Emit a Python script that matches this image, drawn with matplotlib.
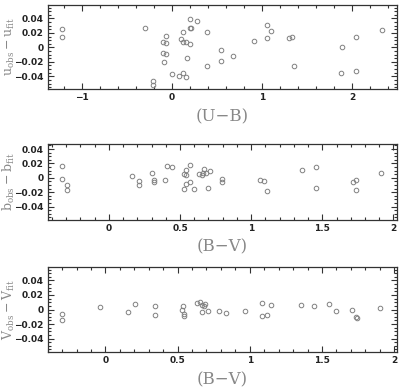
import numpy as np
import matplotlib
matplotlib.use('Agg')
import matplotlib.pyplot as plt
from matplotlib.ticker import MultipleLocator, FuncFormatter

# residuals in u against (U-B)
ub_x = [-1.22, -1.22, -0.294, -0.212, -0.212, -0.101, -0.063, -0.063, -0.101, -0.063,
        -0.085, 0.004, 0.078, 0.123, 0.161, 0.105, 0.123, 0.123, 0.161, 0.198,
        0.164, 0.198, 0.206, 0.209, 0.279, 0.391, 0.391, 0.544, 0.544, 0.674,
        0.916, 1.058, 1.058, 1.102, 1.30, 1.33, 1.352, 1.888, 1.881, 2.048,
        2.045, 2.33]
ub_y = [0.0248, 0.0143, 0.0267, -0.0463, -0.0518, 0.0075, 0.0067, 0.0153, -0.0084, -0.0097,
        -0.0207, -0.0371, -0.039, -0.0358, -0.0404, 0.0122, 0.0212, 0.0075, 0.0075, 0.004,
        -0.0144, 0.0396, 0.0267, 0.0262, 0.0363, 0.0212, -0.0258, -0.0042, -0.0185, -0.012,
        0.0092, 0.0308, 0.0129, 0.023, 0.0129, 0.0143, -0.0258, 0.0005, -0.0354, 0.0143,
        -0.0327, 0.0235]

# residuals in b against (B-V)
bv1_x = [-0.326, -0.326, -0.291, -0.293, 0.160, 0.211, 0.211, 0.303, 0.317, 0.317,
         0.397, 0.411, 0.446, 0.568, 0.545, 0.526, 0.545, 0.540, 0.568, 0.526,
         0.599, 0.634, 0.651, 0.672, 0.681, 0.662, 0.714, 0.695, 0.796, 0.796,
         1.059, 1.092, 1.108, 1.359, 1.453, 1.453, 1.716, 1.739, 1.739, 1.911]
bv1_y = [0.0169, -0.0009, -0.0105, -0.0169, 0.0032, -0.0037, -0.0105, 0.0073, -0.0032, -0.0059,
         -0.0027, 0.0165, 0.0155, 0.0174, 0.011, 0.0055, 0.0037, -0.0082, -0.0064, -0.016,
         -0.016, 0.0055, 0.0046, 0.012, 0.0073, 0.0073, 0.010, -0.0147, -0.0014, -0.0055,
         -0.0027, -0.0037, -0.0178, 0.0105, 0.0155, -0.0146, -0.0064, -0.0032, -0.0165, 0.0069]

# residuals in V against (B-V)
bv2_x = [-0.298, -0.298, -0.037, 0.157, 0.208, 0.340, 0.340, 0.527, 0.536, 0.541,
         0.541, 0.633, 0.652, 0.666, 0.689, 0.680, 0.671, 0.712, 0.79, 0.837,
         0.966, 1.087, 1.087, 1.117, 1.147, 1.357, 1.447, 1.549, 1.595, 1.709,
         1.739, 1.741, 1.905]
bv2_y = [-0.006, -0.0138, 0.0037, -0.0037, 0.0069, 0.0051, -0.0074, -0.0006, 0.005, -0.0062,
         -0.009, 0.0088, 0.0098, 0.006, 0.0078, 0.0042, -0.0034, -0.0014, -0.0024, -0.0042,
         -0.0014, 0.0083, -0.0083, -0.0074, 0.0064, 0.0064, 0.0051, 0.0078, -0.0014, 0.0,
         -0.011, -0.0118, 0.0018]

plt.rcParams['mathtext.fontset'] = 'dejavuserif'

fig = plt.figure(figsize=(4.0, 3.87), dpi=100)
W, H = 400., 387.

def make_ax(top, bot):
    return fig.add_axes([47.7/W, 1-bot/H, (397-47.7)/W, (bot-top)/H])

fmt = FuncFormatter(lambda v, p: '0' if abs(v) < 1e-9 else ('%g' % v).replace('-', '\u2212'))

panels = [
    (4.7, 89.3, ub_x, ub_y, (-1.38, 2.5), (-0.058, 0.059), 1.0, 0.2,
     r'$\mathrm{u_{obs}-u_{fit}}$', '(U\u2212B)'),
    (144, 220, bv1_x, bv1_y, (-0.43, 2.025), (-0.0585, 0.047), 0.5, 0.1,
     r'$\mathrm{b_{obs}-b_{fit}}$', '(B\u2212V)'),
    (266.7, 352.3, bv2_x, bv2_y, (-0.40, 2.02), (-0.059, 0.059), 0.5, 0.1,
     r'$\mathrm{V_{obs}-V_{fit}}$', '(B\u2212V)'),
]

for top, bot, xs, ys, xl, yl, xmaj, xmin, ylab, xlab in panels:
    ax = make_ax(top, bot)
    ax.plot(xs, ys, 'o', mfc='none', mec='#808080', ms=3.3, mew=0.7)
    ax.set_xlim(*xl)
    ax.set_ylim(*yl)
    ax.xaxis.set_major_locator(MultipleLocator(xmaj))
    ax.xaxis.set_minor_locator(MultipleLocator(xmin))
    ax.yaxis.set_major_locator(MultipleLocator(0.02))
    ax.yaxis.set_minor_locator(MultipleLocator(0.005))
    ax.xaxis.set_major_formatter(fmt)
    ax.yaxis.set_major_formatter(fmt)
    ax.tick_params(which='both', direction='in', top=True, right=True,
                   color='#333333', width=0.8)
    ax.tick_params(which='major', length=4, labelsize=6.5, labelcolor='#222222', pad=3)
    ax.tick_params(which='minor', length=2)
    for lab in ax.get_xticklabels() + ax.get_yticklabels():
        lab.set_fontweight('bold')
    for s in ax.spines.values():
        s.set_color('#333333')
        s.set_linewidth(0.9)
    ax.set_ylabel(ylab, fontsize=9, color='#888888')
    ax.yaxis.set_label_coords(-0.088, 0.5)
    ax.set_xlabel(xlab, fontsize=12, color='#888888', family='DejaVu Serif', labelpad=4)

fig.savefig('out.png', dpi=100)
